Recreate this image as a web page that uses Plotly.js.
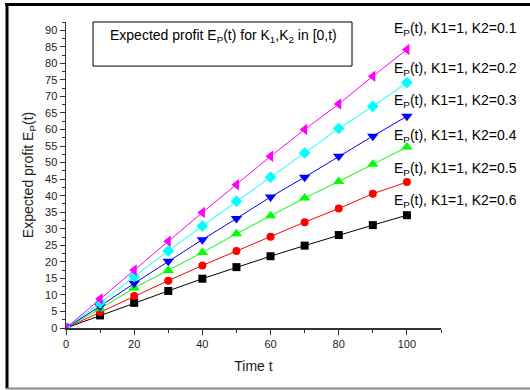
<!DOCTYPE html>
<html>
<head>
<meta charset="utf-8">
<script src="https://cdn.plot.ly/plotly-3.0.1.min.js"></script>
<style>html,body{margin:0;padding:0;background:#fff;}#chart{width:530px;height:390px;}</style>
</head>
<body>
<div id="chart"></div>
<script>
const timeT = [0, 10, 20, 30, 40, 50, 60, 70, 80, 90, 100];
const k2Values = ["0.1", "0.2", "0.3", "0.4", "0.5", "0.6"];
const profitK2_01 = [0, 8.8, 17.5, 26.2, 34.9, 43.3, 51.9, 60.0, 67.7, 76.1, 84.2];
const profitK2_02 = [0, 7.6, 15.5, 23.3, 30.8, 38.3, 45.6, 52.9, 60.3, 67.0, 74.2];
const profitK2_03 = [0, 6.6, 13.5, 20.2, 26.7, 33.1, 39.6, 45.6, 51.9, 58.0, 64.0];
const profitK2_04 = [0, 5.8, 12.1, 17.4, 22.8, 28.5, 33.9, 39.3, 44.3, 49.5, 54.7];
const profitK2_05 = [0, 4.8, 9.7, 14.3, 18.9, 23.3, 27.6, 32.0, 36.1, 40.6, 44.1];
const profitK2_06 = [0, 3.8, 7.6, 11.2, 14.9, 18.4, 21.7, 24.9, 28.1, 31.1, 34.1];
const seriesValues = [profitK2_01, profitK2_02, profitK2_03, profitK2_04, profitK2_05, profitK2_06];

const colors = ["#FF00FF", "#00FFFF", "#0000FF", "#00FF00", "#FF0000", "#000000"];
const symbols = ["triangle-left", "diamond", "triangle-down", "triangle-up", "circle", "square"];
const markerSizes = [10, 9, 10, 10, 8, 8];
const labelY = [0.978, 0.845, 0.742, 0.628, 0.52, 0.415];

const FONT = "Arial, 'Liberation Sans', sans-serif";
const traces = [];
for (let i = seriesValues.length - 1; i >= 0; i--) {
  traces.push({
    x: timeT, y: seriesValues[i], type: "scatter", mode: "lines+markers",
    line: {color: colors[i], width: 1},
    marker: {color: colors[i], symbol: symbols[i], size: markerSizes[i], line: {width: 0}},
    showlegend: false, hoverinfo: "skip"
  });
}

const annotations = k2Values.map((k, i) => ({
  xref: "paper", yref: "paper", x: 0.869, y: labelY[i], xanchor: "left", yanchor: "middle",
  text: "E<sub>P</sub>(t), K1=1, K2=" + k, showarrow: false,
  font: {family: FONT, size: 14, color: "#000"}
}));
annotations.push({
  xref: "paper", yref: "paper", x: 0.112, y: 0.955, xanchor: "left", yanchor: "middle",
  text: "Expected profit E<sub>P</sub>(t) for K<sub>1</sub>,K<sub>2</sub> in [0,t)", showarrow: false,
  font: {family: FONT, size: 14, color: "#000"}
});

const shapes = [
  {type: "rect", xref: "paper", yref: "paper", x0: 0.072, x1: 0.7627, y0: 0.856, y1: 1.0,
   line: {color: "#000", width: 1}},
  {type: "line", xref: "paper", yref: "paper", x0: -0.162, x1: 1.25, y0: 1.0572, y1: 1.0572,
   line: {color: "#000", width: 3}},
  {type: "line", xref: "paper", yref: "paper", x0: -0.1573, x1: -0.1573, y0: 1.062, y1: -0.1977,
   line: {color: "#000", width: 3}},
  {type: "line", xref: "paper", yref: "paper", x0: -0.1573, x1: 1.25, y0: -0.1977, y1: -0.1977,
   line: {color: "#888", width: 2}}
];

const layout = {
  width: 530, height: 390,
  margin: {l: 66, r: 89, t: 22, b: 62},
  paper_bgcolor: "#fff", plot_bgcolor: "#fff",
  font: {family: FONT, color: "#222"},
  xaxis: {
    range: [0, 110], dtick: 20, tick0: 0, showgrid: false, zeroline: false,
    showline: true, linecolor: "#333", linewidth: 1.5,
    ticks: "outside", ticklen: 5, tickwidth: 1, tickcolor: "#333",
    minor: {dtick: 10, ticks: "outside", ticklen: 3, tickcolor: "#333", showgrid: false},
    tickfont: {family: FONT, size: 11, color: "#222"},
    title: {text: "Time t", font: {family: FONT, size: 14, color: "#222"}, standoff: 12}
  },
  yaxis: {
    range: [0, 92.5], dtick: 5, tick0: 0, showgrid: false, zeroline: false,
    showline: true, linecolor: "#333", linewidth: 1.5,
    ticks: "outside", ticklen: 5, tickwidth: 1, tickcolor: "#333",
    minor: {dtick: 2.5, ticks: "outside", ticklen: 3, tickcolor: "#333", showgrid: false},
    tickfont: {family: FONT, size: 11, color: "#222"},
    title: {text: "Expected profit E<sub>P</sub>(t)", font: {family: FONT, size: 14, color: "#222"}, standoff: 8}
  },
  annotations: annotations,
  shapes: shapes
};

Plotly.newPlot("chart", traces, layout, {staticPlot: true, displayModeBar: false});
</script>
</body>
</html>
